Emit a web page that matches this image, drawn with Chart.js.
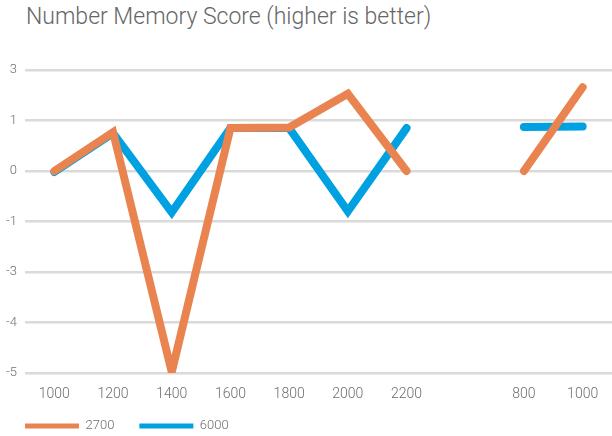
<!DOCTYPE html>
<html>
<head>
<meta charset="utf-8">
<script src="https://cdn.jsdelivr.net/npm/chart.js@4"></script>
<style>
  html, body { margin: 0; padding: 0; background: #fff; }
  #wrap { position: relative; width: 612px; height: 436px; }
  #title {
    position: absolute; left: 26px; top: 3px;
    font-family: Roboto, sans-serif; font-weight: 300;
    font-size: 23px; color: #666; white-space: nowrap;
  }
  canvas { position: absolute; left: 0; top: 0; }
</style>
</head>
<body>
<div id="wrap">
  <div id="title">Number Memory Score (higher is better)</div>
  <canvas id="chart" width="612" height="436"></canvas>
</div>
<script>
// x categories, the blank one is the gap between the two groups
const categories = ["1000", "1200", "1400", "1600", "1800", "2000", "2200", "", "800", "1000"];

// y axis labels, bottom to top; they sit on evenly spaced gridlines
const yTickLabels = ["-5", "-4", "-3", "-1", "0", "1", "3"];

// values read as positions on that axis (0 = "-5" line, 6 = "3" line)
const series2700 = [4.0, 4.77, 0.02, 4.85, 4.86, 5.53, 4.0, null, 4.0, 5.66];
const series6000 = [3.98, 4.75, 3.18, 4.85, 4.85, 3.2, 4.85, null, 4.87, 4.88];

const font = "Roboto, sans-serif";
const textColor = "#6e6e6e";

const ctx = document.getElementById("chart").getContext("2d");
new Chart(ctx, {
    type: "line",
    data: {
        labels: categories,
        datasets: [
            {
                label: "2700",
                data: series2700,
                borderColor: "#E9834F",
                backgroundColor: "#E9834F",
                borderWidth: 8,
                borderCapStyle: "round",
                pointRadius: 0,
                tension: 0
            },
            {
                label: "6000",
                data: series6000,
                borderColor: "#00A1E0",
                backgroundColor: "#00A1E0",
                borderWidth: 8,
                borderCapStyle: "round",
                pointRadius: 0,
                tension: 0
            }
        ]
    },
    options: {
        responsive: false,
        animation: false,
        layout: { padding: { top: 70, left: 0, right: -3.5, bottom: -6.5 } },
        plugins: {
            title: { display: false },
            tooltip: { enabled: false },
            legend: {
                position: "bottom",
                align: "start",
                labels: {
                    boxWidth: 54,
                    boxHeight: 5,
                    padding: 25,
                    color: textColor,
                    font: { family: font, size: 13, weight: 300 },
                    generateLabels: chart => {
                        const items = Chart.defaults.plugins.legend.labels.generateLabels(chart);
                        items.forEach(item => { item.lineWidth = 0; });
                        return items;
                    }
                }
            }
        },
        scales: {
            x: {
                offset: true,
                grid: { display: false, drawTicks: false },
                border: { display: false },
                ticks: {
                    color: textColor,
                    padding: 13,
                    maxRotation: 0,
                    autoSkip: false,
                    font: { family: font, size: 14, weight: 300 }
                },
                afterFit: scale => {
                    scale.height = 21.5;
                    // axis box is kept short for the legend, so let labels draw past it
                    scale._computeLabelArea = () => undefined;
                }
            },
            y: {
                min: 0,
                max: 6,
                grid: { color: "#DADADA", lineWidth: 2.5, drawTicks: false },
                border: { display: false },
                ticks: {
                    stepSize: 1,
                    color: textColor,
                    padding: 8,
                    font: { family: font, size: 13, weight: 300 },
                    callback: value => yTickLabels[value]
                },
                afterFit: scale => { scale.width = 25; }
            }
        }
    }
});
</script>
</body>
</html>
